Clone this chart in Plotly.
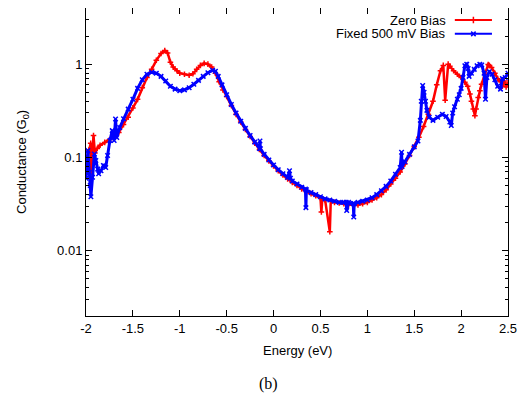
import plotly.graph_objects as go

# ---------------- data ----------------
zero_E = [-2.00, -1.985, -1.97, -1.95, -1.945, -1.93, -1.92, -1.905, -1.88, -1.85, -1.80, -1.75, -1.70,
          -1.65, -1.60, -1.55, -1.50, -1.45, -1.40, -1.35, -1.30, -1.25, -1.20, -1.16, -1.13, -1.10,
          -1.07, -1.03, -1.00, -0.95, -0.90, -0.86, -0.82, -0.78, -0.74, -0.70, -0.66, -0.62, -0.58,
          -0.54, -0.50, -0.45, -0.40, -0.35, -0.30, -0.25, -0.20, -0.15, -0.10, -0.05, 0.00, 0.05,
          0.10, 0.15, 0.20, 0.25, 0.30, 0.35, 0.40, 0.45, 0.50, 0.51, 0.52, 0.55, 0.60, 0.61, 0.65,
          0.70, 0.75, 0.80, 0.85, 0.90, 0.95, 1.00, 1.05, 1.10, 1.15, 1.20, 1.25, 1.30, 1.35, 1.40,
          1.45, 1.50, 1.55, 1.60, 1.65, 1.70, 1.74, 1.78, 1.81, 1.83, 1.862, 1.88, 1.92, 1.96, 2.00,
          2.04, 2.07, 2.094, 2.11, 2.13, 2.147, 2.16, 2.182, 2.20, 2.218, 2.254, 2.289, 2.30, 2.325,
          2.36, 2.39, 2.42, 2.44, 2.46, 2.48, 2.50]
zero_G = [0.085, 0.10, 0.12, 0.142, 0.07, 0.12, 0.172, 0.112, 0.125, 0.135, 0.145, 0.155, 0.168,
          0.185, 0.225, 0.27, 0.34, 0.42, 0.56, 0.72, 0.88, 1.10, 1.30, 1.40, 1.32, 1.05,
          0.93, 0.85, 0.80, 0.78, 0.76, 0.79, 0.88, 0.97, 1.02, 1.00, 0.93, 0.80, 0.65,
          0.53, 0.45, 0.36, 0.29, 0.24, 0.20, 0.168, 0.142, 0.122, 0.105, 0.092, 0.081, 0.072,
          0.065, 0.059, 0.054, 0.050, 0.046, 0.043, 0.041, 0.039, 0.037, 0.026, 0.036, 0.035, 0.016,
          0.034, 0.033, 0.0325, 0.032, 0.031, 0.031, 0.031, 0.032, 0.033, 0.035, 0.037, 0.040,
          0.045, 0.052, 0.060, 0.070, 0.085, 0.105, 0.13, 0.165, 0.215, 0.29, 0.40, 0.60, 0.85,
          0.97, 0.41, 1.00, 0.95, 0.85, 0.78, 0.72, 0.64, 0.58, 0.48, 0.40, 0.33, 0.28, 0.33,
          0.44, 0.52, 0.61, 0.78, 0.99, 0.97, 0.92, 0.80, 0.70, 0.65, 0.58, 0.66, 0.57, 0.63]

bias_E = [-2.00, -1.99, -1.98, -1.965, -1.955, -1.948, -1.93, -1.91, -1.895, -1.875, -1.865, -1.84,
          -1.815, -1.79, -1.77, -1.745, -1.72, -1.70, -1.685, -1.672, -1.64, -1.60, -1.55, -1.50,
          -1.45, -1.40, -1.35, -1.30, -1.25, -1.20, -1.15, -1.10, -1.05, -1.00, -0.95, -0.90, -0.85,
          -0.80, -0.75, -0.70, -0.65, -0.62, -0.59, -0.55, -0.50, -0.45, -0.40, -0.35, -0.30, -0.25,
          -0.20, -0.15, -0.145, -0.14, -0.10, -0.05, 0.00, 0.05, 0.10, 0.15, 0.17, 0.18, 0.20, 0.25,
          0.30, 0.34, 0.345, 0.35, 0.40, 0.45, 0.50, 0.55, 0.60, 0.65, 0.70, 0.75, 0.775, 0.78, 0.80,
          0.85, 0.855, 0.86, 0.90, 0.95, 1.00, 1.05, 1.10, 1.15, 1.20, 1.25, 1.30, 1.35, 1.365, 1.37,
          1.40, 1.45, 1.50, 1.54, 1.565, 1.575, 1.59, 1.605, 1.62, 1.635, 1.66, 1.70, 1.75, 1.80,
          1.84, 1.88, 1.895, 1.91, 1.93, 1.96, 1.98, 2.00, 2.02, 2.04, 2.06, 2.075, 2.085, 2.11,
          2.14, 2.17, 2.20, 2.22, 2.245, 2.26, 2.275, 2.30, 2.33, 2.36, 2.39, 2.42, 2.44, 2.47, 2.50]
bias_G = [0.060, 0.09, 0.119, 0.069, 0.05, 0.038, 0.0615, 0.109, 0.093, 0.075, 0.067, 0.072,
          0.082, 0.078, 0.105, 0.152, 0.194, 0.152, 0.259, 0.164, 0.21, 0.26, 0.33, 0.42,
          0.55, 0.68, 0.78, 0.82, 0.80, 0.74, 0.66, 0.58, 0.54, 0.52, 0.53, 0.56, 0.61,
          0.67, 0.74, 0.81, 0.86, 0.84, 0.74, 0.60, 0.47, 0.37, 0.30, 0.245, 0.205, 0.172,
          0.146, 0.125, 0.15, 0.124, 0.108, 0.094, 0.083, 0.074, 0.067, 0.061, 0.072, 0.060, 0.056, 0.052,
          0.048, 0.046, 0.029, 0.045, 0.042, 0.040, 0.038, 0.036, 0.035, 0.034, 0.033, 0.033, 0.033, 0.027, 0.033,
          0.032, 0.023, 0.032, 0.033, 0.034, 0.035, 0.037, 0.040, 0.044, 0.049, 0.056, 0.066, 0.078, 0.114, 0.08,
          0.09, 0.108, 0.13, 0.15, 0.25, 0.40, 0.59, 0.50, 0.40, 0.32, 0.27, 0.25, 0.27, 0.29,
          0.275, 0.24, 0.22, 0.30, 0.35, 0.42, 0.47, 0.55, 0.72, 0.96, 1.00, 0.90, 0.74, 0.80,
          0.88, 0.96, 1.00, 0.98, 0.80, 0.42, 0.72, 0.83, 0.78, 0.68, 0.58, 0.54, 0.70, 0.72, 0.80]

x_ticks = [-2, -1.5, -1, -0.5, 0, 0.5, 1, 1.5, 2, 2.5]
x_tick_text = ["-2", "-1.5", "-1", "-0.5", "0", "0.5", "1", "1.5", "2", "2.5"]
y_ticks = [0.01, 0.1, 1]
y_tick_text = ["0.01", "0.1", "1"]
y_minor = [m * d for d in (0.001, 0.01, 0.1, 1) for m in range(2, 10) if 0.002 <= m * d <= 4]

series_names = ["Zero Bias", "Fixed 500 mV Bias"]
RED = "#ff0000"
BLUE = "#0000ff"

FONT = "Liberation Sans, Arial, Helvetica, sans-serif"

fig = go.Figure()
fig.add_trace(go.Scatter(x=zero_E, y=zero_G, mode="lines+markers", name=series_names[0],
                         line=dict(color=RED, width=2.5),
                         marker=dict(symbol="cross-thin", size=4, color=RED,
                                     line=dict(color=RED, width=1.5)),
                         showlegend=False))
fig.add_trace(go.Scatter(x=bias_E, y=bias_G, mode="lines+markers", name=series_names[1],
                         line=dict(color=BLUE, width=3),
                         marker=dict(symbol="x-thin", size=4.5, color=BLUE,
                                     line=dict(color=BLUE, width=1.5)),
                         showlegend=False))

# legend samples drawn on an overlay axis (0..1 across the plot area)
leg_y = [0.961, 0.916]
for i, (c, sym) in enumerate([(RED, "cross-thin"), (BLUE, "x-thin")]):
    fig.add_trace(go.Scatter(x=[0.874, 0.962], y=[leg_y[i], leg_y[i]], mode="lines",
                             line=dict(color=c, width=2), xaxis="x2", yaxis="y2",
                             showlegend=False, hoverinfo="skip"))
    fig.add_trace(go.Scatter(x=[0.918], y=[leg_y[i]], mode="markers",
                             marker=dict(symbol=sym, size=4.5, color=c, line=dict(color=c, width=1.5)),
                             xaxis="x2", yaxis="y2", showlegend=False, hoverinfo="skip"))
    fig.add_annotation(xref="paper", yref="paper", x=0.857, y=leg_y[i], text=series_names[i],
                       showarrow=False, xanchor="right", yanchor="middle",
                       font=dict(family=FONT, size=13, color="black"))

axis_common = dict(showline=True, linecolor="black", linewidth=1, mirror="ticks",
                   ticks="inside", ticklen=6, tickwidth=1, tickcolor="black",
                   showgrid=False, zeroline=False,
                   tickfont=dict(family=FONT, size=13, color="black"))

# page body adds an 8px offset, so the figure is sized/margined to compensate
fig.update_layout(
    width=521, height=386,
    margin=dict(l=78, r=21, t=0, b=78),
    paper_bgcolor="white", plot_bgcolor="white",
    showlegend=False,
    xaxis=dict(range=[-2, 2.5], tickvals=x_ticks, ticktext=x_tick_text, **axis_common),
    yaxis=dict(type="log", range=[0.30103 - 3, 0.60206], tickvals=y_ticks, ticktext=y_tick_text,
               minor=dict(tickvals=y_minor, ticks="inside", ticklen=3, tickcolor="black", showgrid=False),
               **axis_common),
    xaxis2=dict(overlaying="x", range=[0, 1], visible=False, fixedrange=True),
    yaxis2=dict(overlaying="y", range=[0, 1], visible=False, fixedrange=True),
)

fig.add_annotation(xref="paper", yref="paper", x=0.5, y=-0.1136, text="Energy (eV)",
                   showarrow=False, xanchor="center", yanchor="middle",
                   font=dict(family=FONT, size=13, color="black"))
fig.add_annotation(xref="paper", yref="paper", x=-0.1517, y=0.5, text="Conductance (G<sub>0</sub>)",
                   showarrow=False, textangle=-90, xanchor="center", yanchor="middle",
                   font=dict(family=FONT, size=13, color="black"))
fig.add_annotation(xref="paper", yref="paper", x=0.433, y=-0.222, text="(b)",
                   showarrow=False, xanchor="center", yanchor="middle",
                   font=dict(family="Liberation Serif, Times New Roman, serif", size=16, color="black"))

fig.write_html("out.html")
